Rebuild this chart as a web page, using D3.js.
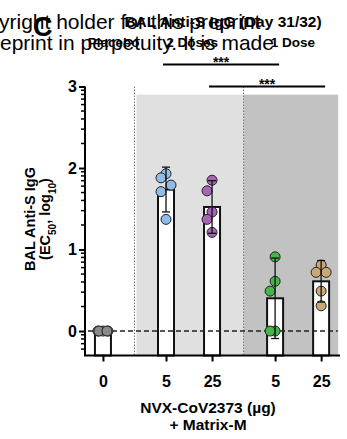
<!DOCTYPE html>
<html>
<head>
<meta charset="utf-8">
<script src="https://cdn.jsdelivr.net/npm/d3@7"></script>
<style>
  body { margin: 0; background: #fff; }
  svg { display: block; font-family: "Liberation Sans", Arial, sans-serif; }
</style>
</head>
<body>
<div id="chart"></div>
<script>
// dose labels, group of each bar, group names
const doses = ['0', '5', '25', '5', '25'];
const groupOf = [0, 1, 1, 2, 2];
const groups = ['Placebo', '2 Doses', '1 Dose'];
const colors = ['#8a8a8a', '#8fbce8', '#a865b7', '#46b64b', '#c8a877'];

// log10 EC50 per animal
const placebo = [0, 0, 0, 0, 0];
const twoDose5 = [1.93, 1.88, 1.79, 1.71, 1.37];
const twoDose25 = [1.85, 1.72, 1.46, 1.37, 1.21];
const oneDose5 = [0.91, 0.61, 0.49, 0, 0];
const oneDose25 = [0.81, 0.72, 0.72, 0.49, 0.31];
const series = [placebo, twoDose5, twoDose25, oneDose5, oneDose25];

const yTicks = [0, 1, 2, 3];
const comparisons = [[1, 3, '***'], [2, 4, '***']];

const width = 347, height = 439;
const svg = d3.select('#chart').append('svg')
  .attr('width', width).attr('height', height);

// slot position: bar index plus extra gap per group
const slot = (i) => i + 0.37 * groupOf[i];
const x = d3.scaleLinear().domain([-0.39, 5.15]).range([85, 340]);
const y = d3.scaleLinear().domain([-0.3, 3]).range([355.5, 86.5]);

// watermark text behind everything
svg.append('text').attr('x', -1).attr('y', 29)
  .style('font-size', '21px').text('yright holder for this preprint');
svg.append('text').attr('x', 0).attr('y', 50)
  .style('font-size', '21px').text('eprint in perpetuity. It is made');

svg.append('text').attr('x', 33).attr('y', 36)
  .style('font-size', '27px').style('font-weight', 'bold').text('C');

// group background shading
const div1 = x((slot(0) + slot(1)) / 2);
const div2 = x((slot(2) + slot(3)) / 2);
svg.append('rect').attr('x', div1 + 2).attr('y', y(2.9))
  .attr('width', div2 - div1 - 2).attr('height', y(-0.3) - y(2.9))
  .attr('fill', '#e0e0e0');
svg.append('rect').attr('x', div2).attr('y', y(2.9))
  .attr('width', x(5.11) - div2).attr('height', y(-0.3) - y(2.9))
  .attr('fill', '#c2c2c2');

[div1, div2].forEach((d) => {
  svg.append('line').attr('x1', d).attr('x2', d)
    .attr('y1', y(3)).attr('y2', y(-0.3))
    .attr('stroke', '#777').attr('stroke-width', 1)
    .attr('stroke-dasharray', '1.5,1.5');
});

// bars = mean
const stats = series.map((v) => {
  const m = d3.mean(v);
  const sd = d3.deviation(v) || 0;
  const ci = 2.776 * sd / Math.sqrt(v.length);
  return { m, ci };
});

const barW = 16;
svg.selectAll('.bar').data(stats).enter().append('rect')
  .attr('x', (d, i) => x(slot(i)) - barW / 2)
  .attr('y', (d) => y(d.m))
  .attr('width', barW)
  .attr('height', (d) => y(-0.3) - y(d.m))
  .attr('fill', '#fff').attr('stroke', '#111').attr('stroke-width', 2);

// dashed baseline at 0
svg.append('line').attr('x1', 88).attr('x2', x(5.1))
  .attr('y1', y(0)).attr('y2', y(0))
  .attr('stroke', '#222').attr('stroke-width', 1.5)
  .attr('stroke-dasharray', '5,3');

// points, simple dodge within each bar
const r = 5;
series.forEach((vals, i) => {
  const placed = [];
  const cx = x(slot(i));
  vals.forEach((v) => {
    const py = y(v);
    const cands = [0, -4, 4, -5, 5];
    let best = 0, bestD = -1;
    for (const o of cands) {
      const dmin = d3.min(placed, (p) => Math.hypot(p[0] - o, p[1] - py));
      const dd = dmin === undefined ? Infinity : dmin;
      if (dd >= 12) { best = o; bestD = dd; break; }
      if (dd > bestD) { best = o; bestD = dd; }
    }
    placed.push([best, py]);
  });
  svg.selectAll(null).data(placed).enter().append('circle')
    .attr('cx', (p) => cx + p[0]).attr('cy', (p) => p[1]).attr('r', r)
    .attr('fill', colors[i]).attr('stroke', '#222').attr('stroke-width', 1);
});

// 95% CI error bars over points
stats.forEach((d, i) => {
  if (d.ci === 0) return;
  const cx = x(slot(i));
  const g = svg.append('g').attr('stroke', '#111').attr('stroke-width', 1.3);
  g.append('line').attr('x1', cx).attr('x2', cx)
    .attr('y1', y(d.m + d.ci)).attr('y2', y(d.m - d.ci));
  [d.m + d.ci, d.m - d.ci].forEach((v) => {
    g.append('line').attr('x1', cx - 4).attr('x2', cx + 4)
      .attr('y1', y(v)).attr('y2', y(v));
  });
});

// y axis with log minor ticks
const minor = [];
[-1, 0, 1, 2].forEach((dec) => {
  d3.range(2, 10).forEach((k) => {
    const v = dec + Math.log10(k);
    if (v > -0.25 && v < 3) minor.push(v);
  });
});
const yAxis = svg.append('g').attr('transform', 'translate(85,0)')
  .call(d3.axisLeft(y).tickValues(yTicks).tickSize(6).tickPadding(2)
    .tickFormat(d3.format('d')));
yAxis.select('.domain').attr('stroke-width', 2).attr('d', `M0,${y(3)}V${y(-0.3)}`);
yAxis.selectAll('.tick line').attr('stroke-width', 2);
yAxis.selectAll('.tick text').style('font-size', '16px').style('font-weight', 'bold')
  .attr('fill', '#000');
yAxis.selectAll('.minor').data(minor).enter().append('line')
  .attr('x1', -4).attr('x2', 0).attr('y1', (d) => y(d)).attr('y2', (d) => y(d))
  .attr('stroke', '#000').attr('stroke-width', 1.5);

// x axis
const xAxis = svg.append('g').attr('transform', `translate(0,${y(-0.3)})`)
  .call(d3.axisBottom(x).tickValues(doses.map((d, i) => slot(i)))
    .tickFormat((d, i) => doses[i]).tickSize(6).tickPadding(14));
xAxis.select('.domain').attr('stroke-width', 2).attr('d', `M84,0H340`);
xAxis.selectAll('.tick line').attr('stroke-width', 2);
xAxis.selectAll('.tick text').style('font-size', '16px').style('font-weight', 'bold')
  .attr('fill', '#000');

svg.append('text').attr('x', 208).attr('y', 413).attr('text-anchor', 'middle')
  .style('font-size', '15.5px').style('font-weight', 'bold').text('NVX-CoV2373 (µg)');
svg.append('text').attr('x', 208).attr('y', 430).attr('text-anchor', 'middle')
  .style('font-size', '15.5px').style('font-weight', 'bold').text('+ Matrix-M');

// y label
const yl = svg.append('text').attr('transform', 'translate(0,219) rotate(-90)')
  .attr('text-anchor', 'middle').style('font-size', '14.5px').style('font-weight', 'bold');
yl.append('tspan').attr('x', 0).attr('y', 35).text('BAL Anti-S IgG');
const l2 = yl.append('tspan').attr('x', 0).attr('y', 50);
l2.append('tspan').text('(EC');
l2.append('tspan').attr('baseline-shift', 'sub').style('font-size', '10px').text('50');
l2.append('tspan').text(', log');
l2.append('tspan').attr('baseline-shift', 'sub').style('font-size', '10px').text('10');
l2.append('tspan').text(')');

// title and group labels
svg.append('text').attr('x', 223).attr('y', 27).attr('text-anchor', 'middle')
  .style('font-size', '15.5px').style('font-weight', 'bold').text('BAL Anti-S IgG (Day 31/32)');
const groupX = [(85 + div1) / 2 + 4, (div1 + div2) / 2 + 3, (div2 + x(5.11)) / 2 + 2];
groups.forEach((g, i) => {
  svg.append('text').attr('x', groupX[i]).attr('y', 47).attr('text-anchor', 'middle')
    .style('font-size', '13.5px').style('font-weight', 'bold').text(g);
});

// significance brackets
const sigY = [y(3) - 22, y(3)];
comparisons.forEach((c, k) => {
  const x1 = x(slot(c[0])) - 3, x2 = x(slot(c[1])) + 4;
  svg.append('line').attr('x1', x1).attr('x2', x2)
    .attr('y1', sigY[k]).attr('y2', sigY[k])
    .attr('stroke', '#000').attr('stroke-width', 2);
  svg.append('text').attr('x', (x1 + x2) / 2).attr('y', sigY[k] + 2)
    .attr('text-anchor', 'middle').style('font-size', '14px').style('font-weight', 'bold')
    .text(c[2]);
});
</script>
</body>
</html>
